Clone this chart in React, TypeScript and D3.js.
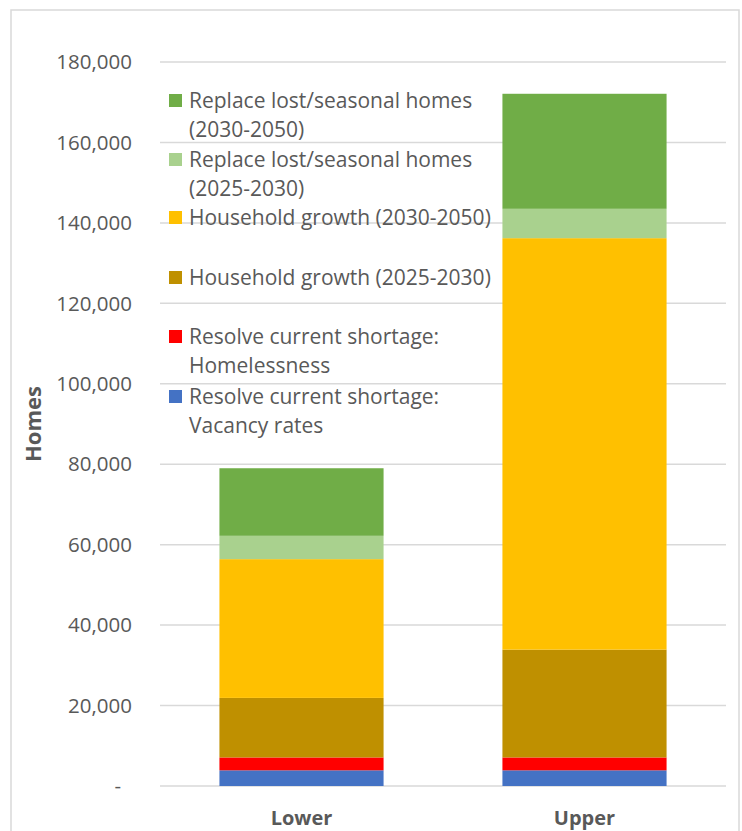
import React from 'react';
import * as d3 from 'd3';

// scenarios on the x axis
const categories = ['Lower', 'Upper'];

// stacked components, bottom to top
const vacancy = [3900, 3900];
const homelessness = [3200, 3200];
const growth2025 = [14800, 26800];
const growth2030 = [34500, 102300];
const replace2025 = [5800, 7300];
const replace2030 = [16800, 28600];

const seriesNames = [
  'Resolve current shortage: Vacancy rates',
  'Resolve current shortage: Homelessness',
  'Household growth (2025-2030)',
  'Household growth (2030-2050)',
  'Replace lost/seasonal homes (2025-2030)',
  'Replace lost/seasonal homes (2030-2050)'
];
const seriesValues = [vacancy, homelessness, growth2025, growth2030, replace2025, replace2030];
const colors = ['#4472c4', '#ff0000', '#bf9000', '#ffc000', '#a9d18e', '#70ad47'];

// legend text as it wraps in the picture, top entry first
const legendLines = [
  ['Replace lost/seasonal homes', '(2030-2050)'],
  ['Replace lost/seasonal homes', '(2025-2030)'],
  ['Household growth (2030-2050)'],
  ['Household growth (2025-2030)'],
  ['Resolve current shortage:', 'Homelessness'],
  ['Resolve current shortage:', 'Vacancy rates']
];
const legendColors = ['#70ad47', '#a9d18e', '#ffc000', '#bf9000', '#ff0000', '#4472c4'];

const yTicks = [0, 20000, 40000, 60000, 80000, 100000, 120000, 140000, 160000, 180000];

const W = 742, H = 831;
const font = '"Open Sans", sans-serif';

export default function App() {
  const left = 160, right = 726, top = 62, bottom = 786;

  const x = d3.scaleBand().domain(categories).range([left, right]).paddingInner(0.42).paddingOuter(0.21);
  const y = d3.scaleLinear().domain([0, 180000]).range([bottom, top]);

  const rows = categories.map((c, i) => {
    const r: any = { cat: c };
    seriesNames.forEach((s, j) => { r[s] = seriesValues[j][i]; });
    return r;
  });
  const stacked = d3.stack().keys(seriesNames)(rows);
  const fmt = d3.format(',');

  // legend row centres (swatch) in px
  const legendY = [101, 160, 218, 278, 337, 397];

  return (
    <svg width={W} height={H} style={{ position: 'absolute', left: 0, top: 0, background: '#fff' }}
      fontFamily={font}>
      <rect x={11} y={10} width={728} height={H} fill="#fff" stroke="#d9d9d9" strokeWidth={1.5} />
      {yTicks.map(t => (
        <g key={t}>
          <line x1={left} x2={right} y1={y(t)} y2={y(t)} stroke="#d9d9d9" strokeWidth={1.5} />
          <text x={t === 0 ? 121 : 132} y={y(t)} dy="0.35em" textAnchor="end" fontSize={20.5} fill="#595959">
            {t === 0 ? '-' : fmt(t)}
          </text>
        </g>
      ))}
      {stacked.map((s, j) => (
        <g key={s.key} fill={colors[j]}>
          {s.map((d: any) => (
            <rect key={d.data.cat} x={x(d.data.cat)} width={x.bandwidth()}
              y={y(d[1])} height={y(d[0]) - y(d[1])} />
          ))}
        </g>
      ))}
      {categories.map(c => (
        <text key={c} x={(x(c) as number) + x.bandwidth() / 2} y={825} textAnchor="middle"
          fontSize={20} fontWeight="bold" fill="#595959">{c}</text>
      ))}
      <text transform={`translate(41,${424}) rotate(-90)`} textAnchor="middle" fontSize={22}
        fontWeight="bold" fill="#595959">Homes</text>
      {legendLines.map((lines, i) => (
        <g key={i}>
          <rect x={169} y={legendY[i] - 7} width={13} height={13} fill={legendColors[i]} />
          {lines.map((l, k) => (
            <text key={k} x={189} y={legendY[i] + k * 29} dy="0.35em" fontSize={21} fill="#595959">{l}</text>
          ))}
        </g>
      ))}
    </svg>
  );
}
